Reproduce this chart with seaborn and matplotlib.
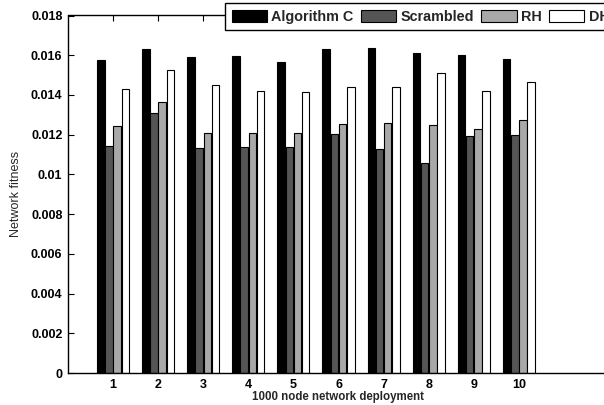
import matplotlib
matplotlib.use("Agg")
import matplotlib.pyplot as plt
import seaborn as sns
import pandas as pd

deployments = [1, 2, 3, 4, 5, 6, 7, 8, 9, 10]
methods = ["Algorithm C", "Scrambled", "RH", "DH"]
alg_c = [0.01578, 0.01629, 0.01592, 0.01597, 0.01568, 0.01630, 0.01634, 0.01613, 0.01603, 0.01581]
scrambled = [0.01145, 0.01309, 0.01133, 0.01140, 0.01138, 0.01202, 0.01128, 0.01057, 0.01193, 0.01196]
rh = [0.01242, 0.01363, 0.01210, 0.01209, 0.01207, 0.01254, 0.01259, 0.01247, 0.01230, 0.01276]
dh = [0.01430, 0.01524, 0.01452, 0.01420, 0.01413, 0.01440, 0.01438, 0.01511, 0.01420, 0.01466]
yticks = [0, 0.002, 0.004, 0.006, 0.008, 0.01, 0.012, 0.014, 0.016, 0.018]
ytick_labels = ["0", "0.002", "0.004", "0.006", "0.008", "0.01", "0.012", "0.014", "0.016", "0.018"]
colors = ["#000000", "#555555", "#a8a8a8", "#ffffff"]

rows = []
for m, vals in zip(methods, [alg_c, scrambled, rh, dh]):
    for d, v in zip(deployments, vals):
        rows.append({"deployment": d, "method": m, "fitness": v})
df = pd.DataFrame(rows)

sns.set_style("white")
plt.rcParams["font.family"] = ["Liberation Sans", "DejaVu Sans"]

fig = plt.figure(figsize=(6.04, 4.05), dpi=100)
ax = fig.add_axes([68 / 604, 1 - 373 / 405, 541 / 604, (373 - 15.5) / 405])

sns.barplot(data=df, x="deployment", y="fitness", hue="method", hue_order=methods,
            palette=colors, native_scale=True, width=0.727, gap=0.08,
            edgecolor="black", linewidth=0.8, errorbar=None, ax=ax, legend=True)

ax.set_xlim(0, 12)
ax.set_ylim(0, 0.018)
ax.set_xticks(deployments)
ax.set_xticklabels([str(d) for d in deployments], fontsize=9, fontweight="bold")
ax.set_yticks(yticks)
ax.set_yticklabels(ytick_labels, fontsize=9, fontweight="bold")
ax.tick_params(axis="both", direction="in", length=4, width=0.8, top=True, right=False,
               bottom=True, left=True, pad=4, colors="black")
ax.tick_params(axis="x", pad=4)
for s in ax.spines.values():
    s.set_visible(True)
    s.set_color("black")
    s.set_linewidth(1.0)

ax.set_xlabel("1000 node network deployment", fontsize=8.3, fontweight="bold", labelpad=0)
ax.set_ylabel("Network fitness", fontsize=9, labelpad=6)

handles, labels = ax.get_legend_handles_labels()
ax.get_legend().remove()
leg = fig.legend(handles, labels, loc="upper left", bbox_to_anchor=(225 / 604, 1 - 3 / 405),
                 ncol=4, prop={"weight": "bold", "size": 10.4},
                 handlelength=2.45, handleheight=0.95, handletextpad=0.3,
                 columnspacing=0.5, borderpad=0.45, borderaxespad=0,
                 frameon=True, fancybox=False, framealpha=1, edgecolor="black")
leg.get_frame().set_linewidth(1.0)

fig.savefig("out.png", dpi=100)
